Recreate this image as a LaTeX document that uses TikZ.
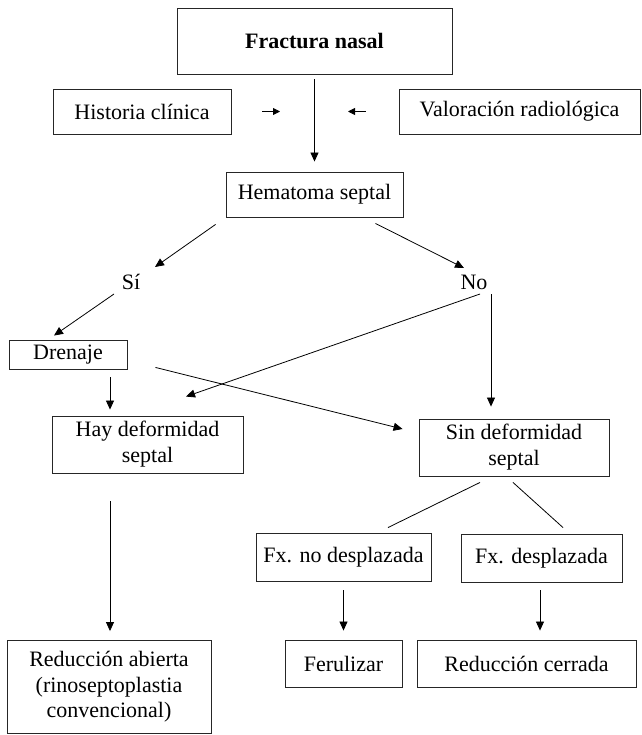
\documentclass[tikz,border=0pt]{standalone}
\usepackage{fontspec}
\setmainfont{Liberation Serif}
\usetikzlibrary{arrows.meta,calc}
\tikzset{
  box/.style={draw=black!85,line width=0.9pt,inner sep=0pt,align=center,
    font=\fontsize{22}{26}\selectfont},
  lbl/.style={inner sep=0pt,font=\fontsize{22}{26}\selectfont},
  arr/.style={line width=0.8pt,-{Triangle[length=9pt,width=8pt]}},
  sarr/.style={line width=0.8pt,-{Triangle[length=7pt,width=7pt]}},
  ln/.style={line width=0.8pt},
}
\begin{document}
\begin{tikzpicture}[x=1pt,y=-1pt]
\useasboundingbox (0,0) rectangle (641,735);
\node[box,minimum width=275pt,minimum height=66pt,font=\fontsize{22}{26}\selectfont\bfseries] (frac) at (314.5,41) {Fractura nasal};
\node[box,minimum width=178pt,minimum height=45pt] (hist) at (142,111.5) {Historia clínica};
\node[box,minimum width=241pt,minimum height=45pt] (valo) at (519.5,111.5) {Valoración radiológica};
\coordinate (vline) at (314,111.5);
\node[box,minimum width=177pt,minimum height=45pt] (hema) at (314.5,194.5) {Hematoma septal};
\node[lbl] (si) at (131,282) {Sí};
\node[lbl] (no) at (474,282) {No};
\node[box,minimum width=118pt,minimum height=29pt] (dren) at (68,354.5) {Drenaje};
\node[box,minimum width=191pt,minimum height=57pt] (hay) at (147.5,444.5) {Hay deformidad\\septal};
\node[box,minimum width=190pt,minimum height=57pt] (sin) at (514,447.5) {Sin deformidad\\septal};
\node[box,minimum width=175pt,minimum height=48pt] (fxno) at (343.5,557) {Fx. no desplazada};
\node[box,minimum width=161pt,minimum height=48pt] (fxd) at (541.5,558) {Fx. desplazada};
\node[box,minimum width=204pt,minimum height=93pt,font=\fontsize{22}{25.5}\selectfont] (redab) at (109,687) {Reducción abierta\\(rinoseptoplastia\\convencional)};
\node[box,minimum width=117pt,minimum height=47pt] (feru) at (343.5,663.5) {Ferulizar};
\node[box,minimum width=219pt,minimum height=47pt] (redc) at (526.5,663.5) {Reducción cerrada};

\draw[arr,shorten <=5pt,shorten >=10pt] (frac.south) -- (hema.north);
\draw[sarr,shorten <=31pt,shorten >=34pt] (hist.east) -- (vline);
\draw[sarr,shorten <=33pt,shorten >=34pt] (valo.west) -- (vline);
\draw[arr] ($(hema.south west)+(-10,7)$) -- ($(si.center)+(24,-15)$);
\draw[arr] ($(hema.south east)+(-28,6)$) -- ($(no.center)+(-10,-14)$);
\draw[arr] ($(si.center)+(-17,12)$) -- ($(dren.north)+(-14,-4)$);
\draw[arr] ($(no.center)+(6,12)$) -- ($(hay.north)+(38.5,-19)$);
\draw[arr] ($(no.center)+(17,12)$) -- ($(sin.north)+(-23,-12)$);
\draw[arr] ($(dren.south)+(42,8)$) -- ($(hay.north)+(-37.5,-6)$);
\draw[arr] ($(dren.south east)+(28,-2)$) -- ($(sin.west)+(-16,-18.5)$);
\draw[ln] ($(sin.south)+(-34,6)$) -- ($(fxno.north)+(44.5,-5)$);
\draw[ln] ($(sin.south)+(-1,6)$) -- ($(fxd.north)+(21.5,-6)$);
\draw[arr] ($(hay.south)+(-37.5,28)$) -- ($(redab.north)+(1,-9)$);
\draw[arr] ($(fxno.south)+(0,9)$) -- ($(feru.north)+(0,-9)$);
\draw[arr] ($(fxd.south)+(-1.5,8)$) -- ($(redc.north)+(13.5,-9)$);
\end{tikzpicture}
\end{document}
